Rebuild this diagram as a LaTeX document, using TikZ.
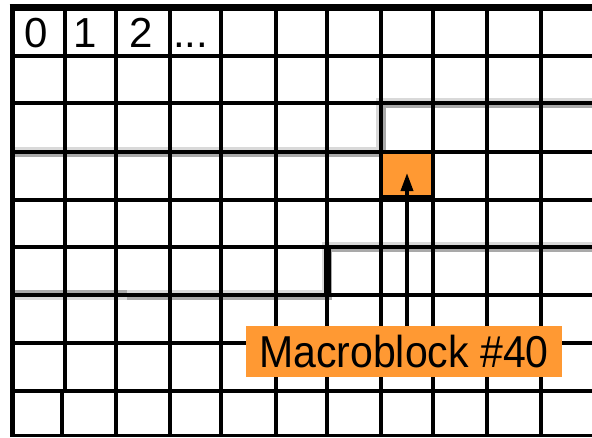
\documentclass[tikz,border=0pt]{standalone}
\usepackage{fontspec}
\setmainfont{Liberation Sans}
\usetikzlibrary{arrows.meta,positioning}
\definecolor{mbfill}{HTML}{FF9933}
\definecolor{slicelt}{HTML}{D9D9D9}
\definecolor{slicedk}{HTML}{A9A9A9}
\begin{document}
\begin{tikzpicture}[x=1pt,y=-1pt,
gridline/.style={line width=3.6pt,draw=black},
slicelight/.style={line width=3.5pt,draw=slicelt},
slicedark/.style={line width=3.5pt,draw=slicedk},
idx/.style={anchor=base west,inner sep=0pt,font=\fontsize{42}{42}\selectfont},
mblabel/.style={fill=mbfill,inner sep=0pt,minimum width=316pt,minimum height=51pt,font=\fontsize{41}{41}\selectfont},
arrow/.style={-{Triangle[length=18pt,width=12pt]},line width=3.5pt,draw=black}]
\useasboundingbox (0,0) rectangle (592,437);
% slice boundaries
\draw[slicelight] (12,148.5) -- (377.5,148.5) -- (377.5,99.5) -- (592,99.5);
\draw[slicedark] (12,155.5) -- (384.5,155.5) -- (384.5,106.5) -- (592,106.5);
\draw[slicedark] (12,291.5) -- (127,291.5);
\draw[slicelight] (12,298.5) -- (127,298.5);
\draw[slicelight] (127,291.5) -- (323.5,291.5) -- (323.5,243.5) -- (592,243.5);
\draw[slicedark] (127,298.5) -- (330.5,298.5) -- (330.5,250.5) -- (592,250.5);
% macroblock 40
\node[fill=mbfill,inner sep=0pt,minimum width=52pt,minimum height=48pt] (mb40) at (407,176) {};
% grid
\foreach \gx in {116,170,221,276,327,381,433,487,541}
  \draw[gridline] (\gx,7) -- (\gx,437);
\draw[gridline] (65,7) -- (65,391);
\draw[gridline] (62,391) -- (62,437);
\foreach \gy in {56,103,152,200,247,295,343,391}
  \draw[gridline] (12,\gy) -- (592,\gy);
\draw[line width=3pt] (12,435) -- (592,435);
\draw[line width=7pt] (9.5,7) -- (592,7);
\draw[line width=5pt] (12,4) -- (12,437);
\draw[line width=7pt] (327,247) -- (327,295);
\draw[line width=6pt] (381,198) -- (433,198);
% indices
\node[idx] (n0) at (24,47) {0};
\node[idx] (n1) at (73,47) {1};
\node[idx] (n2) at (129,47) {2};
\node[idx] (ndots) at (173,47) {...};
% label
\node[mblabel] (label) at (404,351.5) {\scalebox{1}[1.09]{Macroblock \#40}};
\draw[arrow] (label.north -| mb40) -- ([yshift=3pt]mb40.center);
\end{tikzpicture}
\end{document}
